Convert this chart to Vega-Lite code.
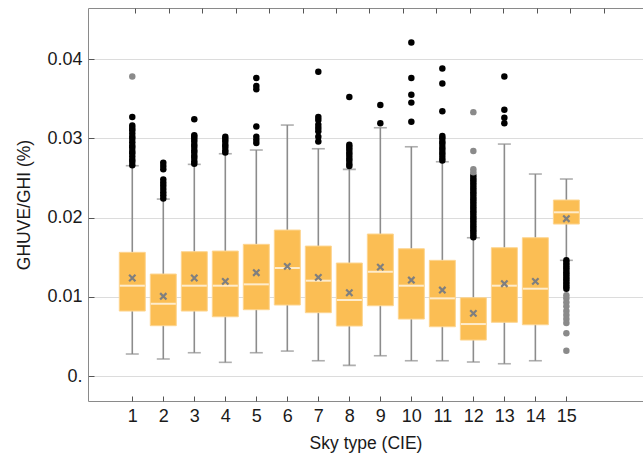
{
  "$schema": "https://vega.github.io/schema/vega-lite/v6.json",
  "autosize": "none",
  "width": 555,
  "height": 393,
  "padding": {"left": 88, "top": 8, "right": 0, "bottom": 58},
  "background": "white",
  "config": {
    "view": {"stroke": "#8a8a8a", "strokeWidth": 1},
    "font": "Liberation Sans",
    "axis": {"labelFont": "Liberation Sans", "titleFont": "Liberation Sans", "labelFontSize": 18, "titleFontSize": 17.5, "labelColor": "#1a1a1a", "titleColor": "#1a1a1a", "titleFontWeight": "normal", "labelFontWeight": "normal", "tickColor": "#555", "domain": false}
  },
  "datasets": {
    "boxes": [
      {"sky": 1, "lower": 0.00278, "q1": 0.0082, "median": 0.0114, "q3": 0.01561, "upper": 0.02654, "mean": 0.01237},
      {"sky": 2, "lower": 0.00215, "q1": 0.00635, "median": 0.00912, "q3": 0.01287, "upper": 0.02233, "mean": 0.01006},
      {"sky": 3, "lower": 0.00294, "q1": 0.0082, "median": 0.0114, "q3": 0.01569, "upper": 0.02671, "mean": 0.01237},
      {"sky": 4, "lower": 0.00173, "q1": 0.00748, "median": 0.0114, "q3": 0.01577, "upper": 0.02805, "mean": 0.01195},
      {"sky": 5, "lower": 0.00294, "q1": 0.00837, "median": 0.01157, "q3": 0.01662, "upper": 0.02852, "mean": 0.01304},
      {"sky": 6, "lower": 0.00315, "q1": 0.00896, "median": 0.01363, "q3": 0.01842, "upper": 0.03167, "mean": 0.01384},
      {"sky": 7, "lower": 0.00193, "q1": 0.00799, "median": 0.01203, "q3": 0.0164, "upper": 0.02868, "mean": 0.01245},
      {"sky": 8, "lower": 0.00135, "q1": 0.00631, "median": 0.00959, "q3": 0.01426, "upper": 0.02608, "mean": 0.01051},
      {"sky": 9, "lower": 0.00256, "q1": 0.00887, "median": 0.01316, "q3": 0.01792, "upper": 0.03133, "mean": 0.01375},
      {"sky": 10, "lower": 0.00193, "q1": 0.00719, "median": 0.0114, "q3": 0.01606, "upper": 0.02893, "mean": 0.01211},
      {"sky": 11, "lower": 0.00193, "q1": 0.00622, "median": 0.0098, "q3": 0.0146, "upper": 0.02704, "mean": 0.01085},
      {"sky": 12, "lower": 0.00177, "q1": 0.00454, "median": 0.00656, "q3": 0.00988, "upper": 0.01745, "mean": 0.00791},
      {"sky": 13, "lower": 0.00155, "q1": 0.00678, "median": 0.0114, "q3": 0.01619, "upper": 0.02927, "mean": 0.01165},
      {"sky": 14, "lower": 0.00193, "q1": 0.00647, "median": 0.01102, "q3": 0.01745, "upper": 0.02549, "mean": 0.01195},
      {"sky": 15, "lower": 0.0146, "q1": 0.01918, "median": 0.02066, "q3": 0.02221, "upper": 0.02486, "mean": 0.01985}
    ],
    "outliers": [
      {"sky": 1, "v": 0.0266, "kind": "near"}, {"sky": 1, "v": 0.0270, "kind": "near"}, {"sky": 1, "v": 0.0273, "kind": "near"}, {"sky": 1, "v": 0.0277, "kind": "near"}, {"sky": 1, "v": 0.0281, "kind": "near"}, {"sky": 1, "v": 0.0284, "kind": "near"}, {"sky": 1, "v": 0.0288, "kind": "near"}, {"sky": 1, "v": 0.0291, "kind": "near"}, {"sky": 1, "v": 0.0295, "kind": "near"}, {"sky": 1, "v": 0.0299, "kind": "near"}, {"sky": 1, "v": 0.0302, "kind": "near"}, {"sky": 1, "v": 0.0306, "kind": "near"}, {"sky": 1, "v": 0.0310, "kind": "near"}, {"sky": 1, "v": 0.0313, "kind": "near"}, {"sky": 1, "v": 0.0316, "kind": "near"}, {"sky": 1, "v": 0.0327, "kind": "near"}, {"sky": 1, "v": 0.0378, "kind": "far"},
      {"sky": 2, "v": 0.0224, "kind": "near"}, {"sky": 2, "v": 0.0228, "kind": "near"}, {"sky": 2, "v": 0.0232, "kind": "near"}, {"sky": 2, "v": 0.0236, "kind": "near"}, {"sky": 2, "v": 0.0240, "kind": "near"}, {"sky": 2, "v": 0.0244, "kind": "near"}, {"sky": 2, "v": 0.0248, "kind": "near"}, {"sky": 2, "v": 0.0261, "kind": "near"}, {"sky": 2, "v": 0.0265, "kind": "near"}, {"sky": 2, "v": 0.0269, "kind": "near"},
      {"sky": 3, "v": 0.0268, "kind": "near"}, {"sky": 3, "v": 0.0271, "kind": "near"}, {"sky": 3, "v": 0.0275, "kind": "near"}, {"sky": 3, "v": 0.0278, "kind": "near"}, {"sky": 3, "v": 0.0282, "kind": "near"}, {"sky": 3, "v": 0.0285, "kind": "near"}, {"sky": 3, "v": 0.0289, "kind": "near"}, {"sky": 3, "v": 0.0292, "kind": "near"}, {"sky": 3, "v": 0.0296, "kind": "near"}, {"sky": 3, "v": 0.0299, "kind": "near"}, {"sky": 3, "v": 0.0302, "kind": "near"}, {"sky": 3, "v": 0.0304, "kind": "near"}, {"sky": 3, "v": 0.0324, "kind": "near"},
      {"sky": 4, "v": 0.0282, "kind": "near"}, {"sky": 4, "v": 0.0285, "kind": "near"}, {"sky": 4, "v": 0.0289, "kind": "near"}, {"sky": 4, "v": 0.0292, "kind": "near"}, {"sky": 4, "v": 0.0296, "kind": "near"}, {"sky": 4, "v": 0.0299, "kind": "near"}, {"sky": 4, "v": 0.0302, "kind": "near"},
      {"sky": 5, "v": 0.0294, "kind": "near"}, {"sky": 5, "v": 0.0298, "kind": "near"}, {"sky": 5, "v": 0.0302, "kind": "near"}, {"sky": 5, "v": 0.0315, "kind": "near"}, {"sky": 5, "v": 0.0362, "kind": "near"}, {"sky": 5, "v": 0.0366, "kind": "near"}, {"sky": 5, "v": 0.0376, "kind": "near"},
      {"sky": 7, "v": 0.0296, "kind": "near"}, {"sky": 7, "v": 0.0302, "kind": "near"}, {"sky": 7, "v": 0.0309, "kind": "near"}, {"sky": 7, "v": 0.0313, "kind": "near"}, {"sky": 7, "v": 0.0317, "kind": "near"}, {"sky": 7, "v": 0.0323, "kind": "near"}, {"sky": 7, "v": 0.0327, "kind": "near"}, {"sky": 7, "v": 0.0384, "kind": "near"},
      {"sky": 8, "v": 0.0265, "kind": "near"}, {"sky": 8, "v": 0.0268, "kind": "near"}, {"sky": 8, "v": 0.0272, "kind": "near"}, {"sky": 8, "v": 0.0275, "kind": "near"}, {"sky": 8, "v": 0.0279, "kind": "near"}, {"sky": 8, "v": 0.0282, "kind": "near"}, {"sky": 8, "v": 0.0286, "kind": "near"}, {"sky": 8, "v": 0.0289, "kind": "near"}, {"sky": 8, "v": 0.0292, "kind": "near"}, {"sky": 8, "v": 0.0352, "kind": "near"},
      {"sky": 9, "v": 0.0319, "kind": "near"}, {"sky": 9, "v": 0.0342, "kind": "near"},
      {"sky": 10, "v": 0.0321, "kind": "near"}, {"sky": 10, "v": 0.0345, "kind": "near"}, {"sky": 10, "v": 0.0355, "kind": "near"}, {"sky": 10, "v": 0.0376, "kind": "near"}, {"sky": 10, "v": 0.0421, "kind": "near"},
      {"sky": 11, "v": 0.0272, "kind": "near"}, {"sky": 11, "v": 0.0275, "kind": "near"}, {"sky": 11, "v": 0.0279, "kind": "near"}, {"sky": 11, "v": 0.0282, "kind": "near"}, {"sky": 11, "v": 0.0286, "kind": "near"}, {"sky": 11, "v": 0.0289, "kind": "near"}, {"sky": 11, "v": 0.0293, "kind": "near"}, {"sky": 11, "v": 0.0296, "kind": "near"}, {"sky": 11, "v": 0.0300, "kind": "near"}, {"sky": 11, "v": 0.0303, "kind": "near"}, {"sky": 11, "v": 0.0334, "kind": "near"}, {"sky": 11, "v": 0.0369, "kind": "near"}, {"sky": 11, "v": 0.0388, "kind": "near"},
      {"sky": 12, "v": 0.0175, "kind": "near"}, {"sky": 12, "v": 0.0178, "kind": "near"}, {"sky": 12, "v": 0.0181, "kind": "near"}, {"sky": 12, "v": 0.0184, "kind": "near"}, {"sky": 12, "v": 0.0187, "kind": "near"}, {"sky": 12, "v": 0.0190, "kind": "near"}, {"sky": 12, "v": 0.0193, "kind": "near"}, {"sky": 12, "v": 0.0196, "kind": "near"}, {"sky": 12, "v": 0.0199, "kind": "near"}, {"sky": 12, "v": 0.0202, "kind": "near"}, {"sky": 12, "v": 0.0205, "kind": "near"}, {"sky": 12, "v": 0.0208, "kind": "near"}, {"sky": 12, "v": 0.0211, "kind": "near"}, {"sky": 12, "v": 0.0214, "kind": "near"}, {"sky": 12, "v": 0.0217, "kind": "near"}, {"sky": 12, "v": 0.0220, "kind": "near"}, {"sky": 12, "v": 0.0223, "kind": "near"}, {"sky": 12, "v": 0.0226, "kind": "near"}, {"sky": 12, "v": 0.0229, "kind": "near"}, {"sky": 12, "v": 0.0232, "kind": "near"}, {"sky": 12, "v": 0.0235, "kind": "near"}, {"sky": 12, "v": 0.0238, "kind": "near"}, {"sky": 12, "v": 0.0241, "kind": "near"}, {"sky": 12, "v": 0.0244, "kind": "near"}, {"sky": 12, "v": 0.0247, "kind": "near"}, {"sky": 12, "v": 0.0250, "kind": "near"}, {"sky": 12, "v": 0.0253, "kind": "near"}, {"sky": 12, "v": 0.0257, "kind": "far"}, {"sky": 12, "v": 0.0261, "kind": "far"}, {"sky": 12, "v": 0.0284, "kind": "far"}, {"sky": 12, "v": 0.0333, "kind": "far"},
      {"sky": 13, "v": 0.0319, "kind": "near"}, {"sky": 13, "v": 0.0326, "kind": "near"}, {"sky": 13, "v": 0.0336, "kind": "near"}, {"sky": 13, "v": 0.0378, "kind": "near"},
      {"sky": 15, "v": 0.0146, "kind": "near"}, {"sky": 15, "v": 0.0143, "kind": "near"}, {"sky": 15, "v": 0.0140, "kind": "near"}, {"sky": 15, "v": 0.0137, "kind": "near"}, {"sky": 15, "v": 0.0134, "kind": "near"}, {"sky": 15, "v": 0.0131, "kind": "near"}, {"sky": 15, "v": 0.0128, "kind": "near"}, {"sky": 15, "v": 0.0125, "kind": "near"}, {"sky": 15, "v": 0.0122, "kind": "near"}, {"sky": 15, "v": 0.0119, "kind": "near"}, {"sky": 15, "v": 0.0116, "kind": "near"}, {"sky": 15, "v": 0.0113, "kind": "near"}, {"sky": 15, "v": 0.0110, "kind": "near"}, {"sky": 15, "v": 0.0102, "kind": "far"}, {"sky": 15, "v": 0.0098, "kind": "far"}, {"sky": 15, "v": 0.0093, "kind": "far"}, {"sky": 15, "v": 0.0088, "kind": "far"}, {"sky": 15, "v": 0.0082, "kind": "far"}, {"sky": 15, "v": 0.0077, "kind": "far"}, {"sky": 15, "v": 0.0072, "kind": "far"}, {"sky": 15, "v": 0.0067, "kind": "far"}, {"sky": 15, "v": 0.0054, "kind": "far"}, {"sky": 15, "v": 0.0032, "kind": "far"}
    ]
  },
  "resolve": {"axis": {"x": "independent"}},
  "layer": [
    {
      "data": {"name": "boxes"},
      "mark": {"type": "rule", "color": "#8c8c8c", "strokeWidth": 1.6},
      "encoding": {
        "x": {"field": "sky", "type": "quantitative", "scale": {"domain": [-0.267, 17.31], "nice": false, "zero": false},
          "axis": {"orient": "bottom", "values": [1,2,3,4,5,6,7,8,9,10,11,12,13,14,15], "format": "d", "grid": false, "offset": -5, "tickSize": 5, "labelPadding": 6, "title": "Sky type (CIE)", "titlePadding": 9}},
        "y": {"field": "lower", "type": "quantitative", "scale": {"domain": [-0.00315, 0.04644], "nice": false, "zero": false},
          "axis": {"values": [0, 0.01, 0.02, 0.03, 0.04], "labelExpr": "datum.value == 0 ? '0.' : format(datum.value, '.2f')", "grid": true, "gridColor": "#dcdcdc", "offset": -6, "tickSize": 6, "labelPadding": 6, "title": "GHUVE/GHI (%)", "titlePadding": 13}},
        "y2": {"field": "upper"}
      }
    },
    {
      "data": {"name": "boxes"},
      "mark": {"type": "tick", "orient": "horizontal", "color": "#8c8c8c", "size": 13, "thickness": 1.6},
      "encoding": {
        "x": {"field": "sky", "type": "quantitative", "axis": {"orient": "top", "values": [1.1, 2.18, 3.26, 4.33, 5.41, 6.49, 7.57, 8.65, 9.73, 10.81, 11.89, 12.97, 14.05, 15.13, 16.2], "labels": false, "grid": false, "offset": -5, "tickSize": 5, "title": null}},
        "y": {"field": "lower", "type": "quantitative"}
      }
    },
    {
      "data": {"name": "boxes"},
      "mark": {"type": "tick", "orient": "horizontal", "color": "#8c8c8c", "size": 13, "thickness": 1.6},
      "encoding": {
        "x": {"field": "sky", "type": "quantitative", "axis": null},
        "y": {"field": "upper", "type": "quantitative"}
      }
    },
    {
      "data": {"name": "boxes"},
      "mark": {"type": "bar", "size": 26, "color": "#fbbe54", "stroke": "#fdd590", "strokeWidth": 1},
      "encoding": {
        "x": {"field": "sky", "type": "quantitative", "axis": null},
        "y": {"field": "q1", "type": "quantitative"},
        "y2": {"field": "q3"}
      }
    },
    {
      "data": {"name": "boxes"},
      "mark": {"type": "tick", "orient": "horizontal", "color": "white", "size": 25, "thickness": 2},
      "encoding": {
        "x": {"field": "sky", "type": "quantitative", "axis": null},
        "y": {"field": "median", "type": "quantitative"}
      }
    },
    {
      "data": {"name": "boxes"},
      "mark": {"type": "point", "shape": "M-1,-1L1,1M-1,1L1,-1", "size": 40, "filled": false, "stroke": "#7f7f7f", "strokeWidth": 2.2, "opacity": 1},
      "encoding": {
        "x": {"field": "sky", "type": "quantitative", "axis": null},
        "y": {"field": "mean", "type": "quantitative"}
      }
    },
    {
      "data": {"name": "outliers"},
      "mark": {"type": "circle", "size": 42, "opacity": 1},
      "encoding": {
        "x": {"field": "sky", "type": "quantitative", "axis": null},
        "y": {"field": "v", "type": "quantitative"},
        "color": {"field": "kind", "type": "nominal", "scale": {"domain": ["near", "far"], "range": ["#000000", "#8a8a8a"]}, "legend": null}
      }
    }
  ]
}
